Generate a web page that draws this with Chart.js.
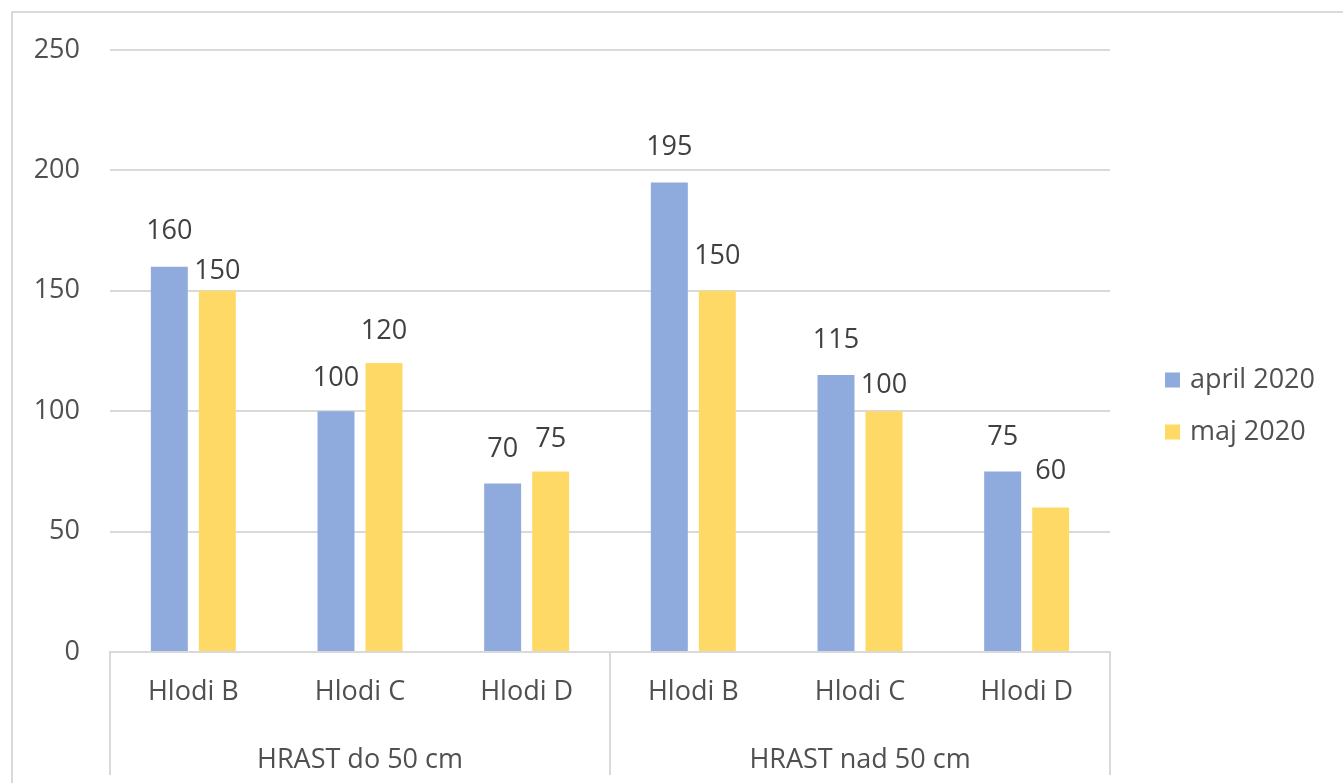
<!DOCTYPE html>
<html>
<head>
<meta charset="utf-8">
<script src="https://cdn.jsdelivr.net/npm/chart.js@4.4.1/dist/chart.umd.min.js"></script>
<style>
  html, body { margin: 0; padding: 0; background: #fff; overflow: hidden; }
  #wrap { position: relative; width: 1343px; height: 783px; }
  #frame { position: absolute; left: 11px; top: 11px; width: 1400px; height: 800px; border: 2px solid #d9d9d9; box-sizing: border-box; }
  canvas { position: absolute; left: 0; top: 0; }
</style>
</head>
<body>
<div id="wrap">
  <div id="frame"></div>
  <canvas id="chart" width="1343" height="783"></canvas>
</div>
<script>
const subcategories = ["Hlodi B", "Hlodi C", "Hlodi D", "Hlodi B", "Hlodi C", "Hlodi D"];
const groups = ["HRAST do 50 cm", "HRAST nad 50 cm"];
const seriesNames = ["april 2020", "maj 2020"];
const april2020 = [160, 100, 70, 195, 115, 75];
const maj2020 = [150, 120, 75, 150, 100, 60];
const yMin = 0;
const yMax = 250;
const yStep = 50;

const FONT = "'Open Sans', 'Noto Sans', sans-serif";
const GRID = "#d9d9d9";
const TEXT = "#505050";

// value labels above each bar (lift = px from bar top to label centre)
const barValues = {
  id: "barValues",
  afterDatasetsDraw(chart, args, opts) {
    const ctx = chart.ctx;
    ctx.save();
    ctx.font = `${opts.size}px ${FONT}`;
    ctx.fillStyle = opts.color;
    ctx.textAlign = "center";
    ctx.textBaseline = "middle";
    chart.data.datasets.forEach((ds, di) => {
      chart.getDatasetMeta(di).data.forEach((bar, i) => {
        const lift = (opts.lift[di] && opts.lift[di][i]) || opts.defaultLift;
        ctx.fillText(ds.data[i], bar.x, bar.y - lift);
      });
    });
    ctx.restore();
  }
};

// legend on the right, Excel style
const sideLegend = {
  id: "sideLegend",
  afterDraw(chart, args, opts) {
    const ctx = chart.ctx;
    const x = chart.chartArea.right + opts.gap;
    ctx.save();
    ctx.font = `${opts.size}px ${FONT}`;
    ctx.textBaseline = "middle";
    ctx.textAlign = "left";
    chart.data.datasets.forEach((ds, i) => {
      const y = opts.top + i * opts.spacing;
      ctx.fillStyle = ds.backgroundColor;
      ctx.fillRect(x, y - opts.box / 2, opts.box, opts.box);
      ctx.fillStyle = opts.color;
      ctx.fillText(ds.label, x + opts.box + 10, y);
    });
    ctx.restore();
  }
};

new Chart(document.getElementById("chart"), {
  type: "bar",
  data: {
    labels: subcategories,
    datasets: [
      { label: seriesNames[0], data: april2020, backgroundColor: "#8faadc" },
      { label: seriesNames[1], data: maj2020, backgroundColor: "#ffd966" }
    ]
  },
  options: {
    responsive: false,
    animation: false,
    layout: { padding: { left: 10, top: 50, right: 233, bottom: 0 } },
    datasets: { bar: { categoryPercentage: 0.576, barPercentage: 0.77 } },
    scales: {
      y: {
        min: yMin,
        max: yMax,
        ticks: { stepSize: yStep, padding: 30, color: TEXT, font: { family: FONT, size: 27 } },
        grid: { color: GRID, lineWidth: 2, drawTicks: false },
        border: { display: false },
        afterFit: s => { s.width = 100; }
      },
      x: {
        weight: 0,
        offset: true,
        ticks: { padding: -99, autoSkip: false, maxRotation: 0, color: TEXT, font: { family: FONT, size: 27 } },
        grid: {
          offset: true,
          drawOnChartArea: false,
          tickLength: 123,
          lineWidth: 2,
          color: c => (c.type !== "tick" || c.index % 3 === 0 ? GRID : "transparent")
        },
        border: { display: true, color: GRID, width: 2 },
        afterFit: s => { s.height = 80; }
      },
      x2: {
        type: "category",
        position: "bottom",
        weight: 1,
        labels: groups,
        offset: true,
        ticks: { padding: 4, color: TEXT, font: { family: FONT, size: 27 } },
        grid: { display: false },
        border: { display: false },
        afterFit: s => { s.height = 51; }
      }
    },
    plugins: {
      legend: { display: false },
      tooltip: { enabled: false },
      barValues: { size: 27, color: "#404040", defaultLift: 34, lift: [[35, 33, 34, 35, 35, 34], [19, 32, 32, 34, 26, 36]] },
      sideLegend: { size: 27, color: TEXT, gap: 55, box: 15, top: 380, spacing: 52 }
    }
  },
  plugins: [barValues, sideLegend]
});
</script>
</body>
</html>
